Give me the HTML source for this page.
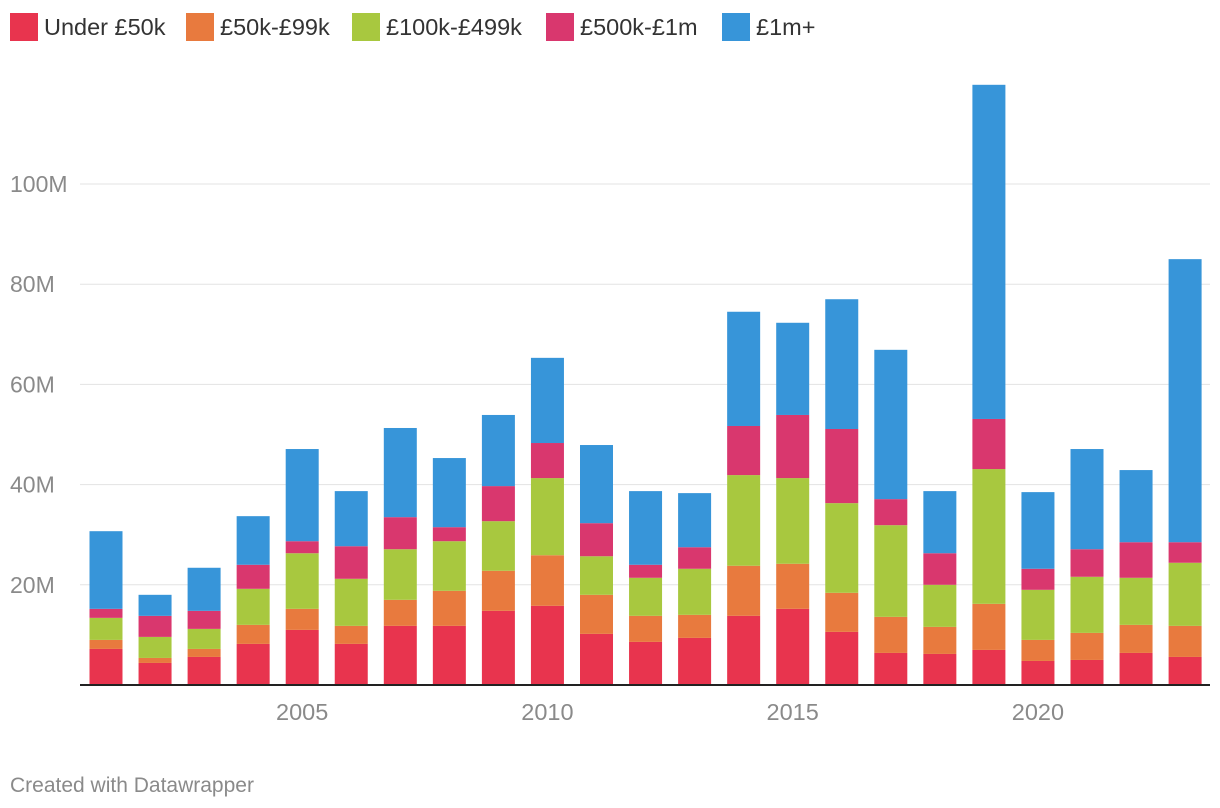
<!DOCTYPE html>
<html><head><meta charset="utf-8"><style>
body{margin:0;background:#fff;font-family:"Liberation Sans",sans-serif;}
#wrap{position:relative;width:1220px;height:808px;overflow:hidden}
.leg{position:absolute;top:13px;display:flex;align-items:center;font-size:23.5px;color:#333}
.leg span.sw{display:inline-block;width:28px;height:28px;margin-right:6px}
</style></head><body><div id="wrap">
<div class="leg" style="left:10px"><span class="sw" style="background:#e8344e"></span>Under £50k</div>
<div class="leg" style="left:186px"><span class="sw" style="background:#e87a3e"></span>£50k-£99k</div>
<div class="leg" style="left:352px"><span class="sw" style="background:#a8c83f"></span>£100k-£499k</div>
<div class="leg" style="left:546px"><span class="sw" style="background:#d9376e"></span>£500k-£1m</div>
<div class="leg" style="left:722px"><span class="sw" style="background:#3795d9"></span>£1m+</div>
<svg id="svg" width="1220" height="808" style="position:absolute;left:0;top:0"></svg>
</div>
<script>
const years=[2001,2002,2003,2004,2005,2006,2007,2008,2009,2010,2011,2012,2013,2014,2015,2016,2017,2018,2019,2020,2021,2022,2023];
const under50k=[7.2,4.4,5.6,8.2,11,8.2,11.8,11.8,14.8,15.8,10.2,8.6,9.4,13.8,15.2,10.6,6.4,6.2,7,4.8,5,6.4,5.6];
const k50to99=[1.8,1,1.6,3.8,4.2,3.6,5.2,7,8,10.1,7.8,5.2,4.6,10,9,7.8,7.2,5.4,9.2,4.2,5.4,5.6,6.2];
const k100to499=[4.4,4.2,4,7.2,11.1,9.4,10.1,9.9,9.9,15.4,7.7,7.6,9.2,18.1,17.1,17.9,18.3,8.4,26.9,10,11.2,9.4,12.6];
const k500to1m=[1.8,4.2,3.6,4.8,2.4,6.5,6.4,2.8,7,7,6.6,2.6,4.3,9.8,12.6,14.8,5.2,6.3,10,4.2,5.5,7.1,4.1];
const m1plus=[15.5,4.2,8.6,9.7,18.4,11,17.8,13.8,14.2,17,15.6,14.7,10.8,22.8,18.4,25.9,29.8,12.4,66.7,15.3,20,14.4,56.5];
const yTicks=[20,40,60,80,100];
const xTicks=[2005,2010,2015,2020];
const series=[[under50k,'#e8344e','under-50k'],[k50to99,'#e87a3e','50k-99k'],[k100to499,'#a8c83f','100k-499k'],[k500to1m,'#d9376e','500k-1m'],[m1plus,'#3795d9','1m-plus']];
const svg=document.getElementById('svg');const NS='http://www.w3.org/2000/svg';
const y=v=>685-v*5.01;
const x=yr=>106+(yr-2001)*49.05;
function mk(t,a){const e=document.createElementNS(NS,t);for(const k in a)e.setAttribute(k,a[k]);svg.appendChild(e);return e;}
yTicks.forEach(t=>{
 const l=mk('line',{x1:80,x2:1210,y1:y(t),y2:y(t),stroke:'#e3e3e3','stroke-width':1});
 
 
 const tx=mk('text',{x:10,y:y(t)+8,'font-size':23,fill:'#8a8a8a','font-family':'Liberation Sans'});
 tx.textContent=t+'M';
 
 
});
years.forEach((yr,i)=>{
 let c=0;
 series.forEach(s=>{
  const v=s[0][i];
  const r=mk('rect',{x:x(yr)-16.5,width:33,y:y(c+v),height:v*5.01,fill:s[1]});
  
  
  c+=v;
 });
});
const ax=mk('line',{x1:80,x2:1210,y1:685,y2:685,stroke:'#222','stroke-width':2});


xTicks.forEach(t=>{
 const tx=mk('text',{x:x(t),y:720,'font-size':23.5,fill:'#8a8a8a','text-anchor':'middle','font-family':'Liberation Sans'});
 tx.textContent=t;
 
 
});
const f=mk('text',{x:10,y:792,'font-size':21,fill:'#8a8a8a','font-family':'Liberation Sans'});
f.textContent='Created with Datawrapper';


</script></body></html>
